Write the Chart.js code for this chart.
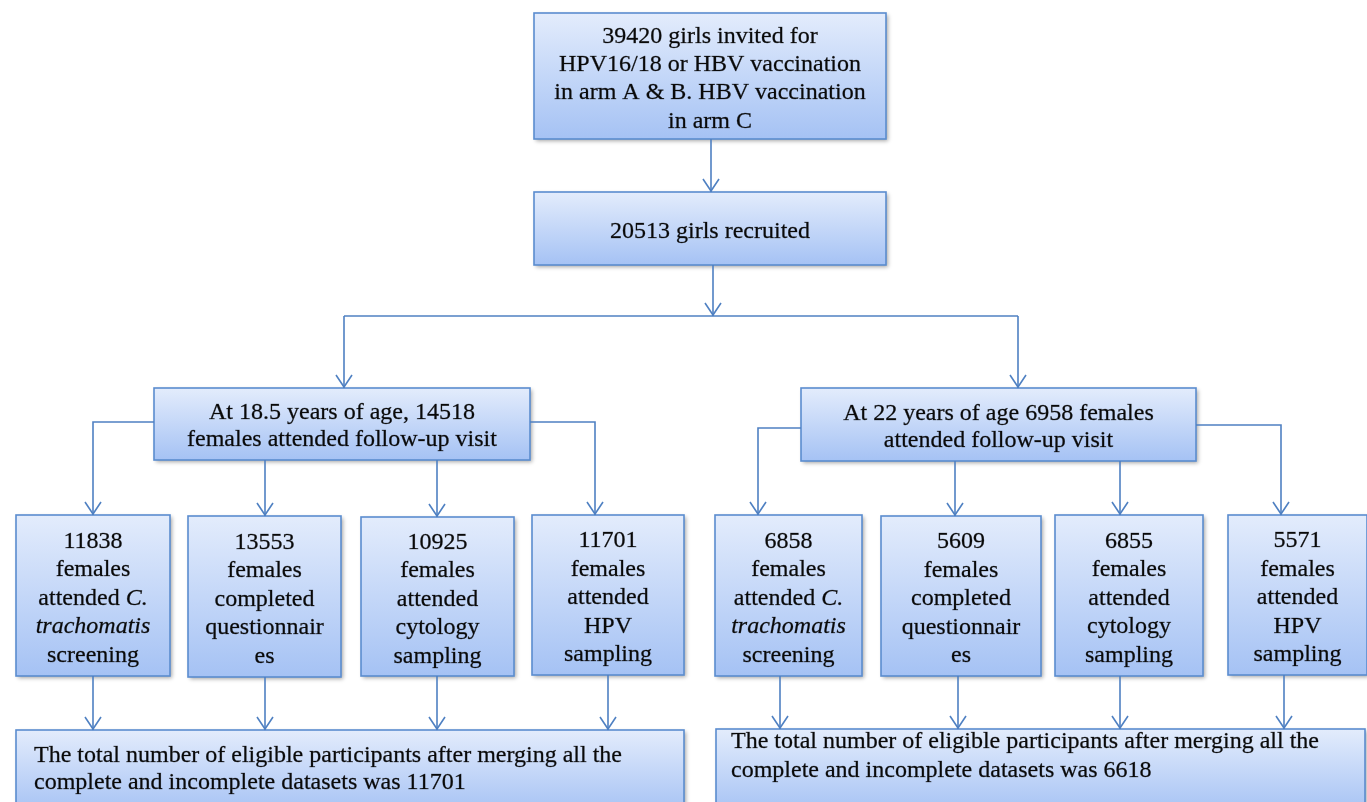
<!DOCTYPE html>
<html>
<head>
<meta charset="utf-8">
<title>Flow chart</title>
<script src="https://cdn.jsdelivr.net/npm/chart.js"></script>
<style>
  html, body { margin: 0; padding: 0; background: #fff; overflow: hidden; }
  canvas { display: block; }
</style>
</head>
<body>
<canvas id="flow" width="1367" height="802"></canvas>
<script>
// ---- data ----
const invitedCount = 39420;
const recruitedCount = 20513;
const visitAges = ['18.5', '22'];
const visitCounts = [14518, 6958];
const outcomeCountsAt18 = [11838, 13553, 10925, 11701];
const outcomeCountsAt22 = [6858, 5609, 6855, 5571];
const eligibleTotals = [11701, 6618];
// wording of the outcome boxes, one entry per row of text (*...* = italic)
const outcomeWording = [
  ['females', 'attended *C.*', '*trachomatis*', 'screening'],
  ['females', 'completed', 'questionnair', 'es'],
  ['females', 'attended', 'cytology', 'sampling'],
  ['females', 'attended', 'HPV', 'sampling']
];

// ---- layout (page units, same as canvas pixels) ----
const topBox = [534, 886, 13, 139];
const recruitedBox = [534, 886, 192, 265];
const visitBoxes = [[154, 530, 388, 460], [801, 1196, 388, 461]];
const outcomeBoxes18 = [[16, 170, 515, 676], [188, 341, 516, 677], [361, 514, 517, 676], [532, 684, 515, 675]];
const outcomeBoxes22 = [[715, 862, 515, 676], [881, 1041, 516, 676], [1055, 1203, 515, 676], [1228, 1367, 515, 675]];
const finalBoxes = [[16, 684, 730, 814], [716, 1365, 729, 814]];
const splitY = 316;
const visitSideY = [[422, 422], [428, 425]];
const visitSideX = [[93, 595], [758, 1281]];
const visitMidX = [[265, 437], [955, 1120]];
const finalArrowX = [[93, 265, 437, 608], [780, 958, 1120, 1284]];

const FONT = '"Liberation Serif", "Times New Roman", serif';
const LINE_COLOR = '#4f80c2';

// ---- build boxes with their text ----
const boxes = [];
boxes.push({ r: topBox, lines: [invitedCount + ' girls invited for', 'HPV16/18 or HBV vaccination', 'in arm A & B. HBV vaccination', 'in arm C'], lh: 28.3, dy: 3 });
boxes.push({ r: recruitedBox, lines: [recruitedCount + ' girls recruited'], lh: 28, dy: 3 });
boxes.push({ r: visitBoxes[0], lines: ['At ' + visitAges[0] + ' years of age, ' + visitCounts[0], 'females attended follow-up visit'], lh: 27, dy: 2 });
boxes.push({ r: visitBoxes[1], lines: ['At ' + visitAges[1] + ' years of age ' + visitCounts[1] + ' females', 'attended follow-up visit'], lh: 27, dy: 3 });
outcomeBoxes18.forEach((r, i) => boxes.push({ r, lines: [String(outcomeCountsAt18[i])].concat(outcomeWording[i]), lh: 28.5, dy: 3 }));
outcomeBoxes22.forEach((r, i) => boxes.push({ r, lines: [String(outcomeCountsAt22[i])].concat(outcomeWording[i]), lh: 28.5, dy: 3 }));
const finalText = n => ['The total number of eligible participants after merging all the', 'complete and incomplete datasets was ' + n];
boxes.push({ r: finalBoxes[0], lines: finalText(eligibleTotals[0]), left: 18, top: 26, lh: 27 });
boxes.push({ r: finalBoxes[1], lines: finalText(eligibleTotals[1]), left: 15, top: 13, lh: 29 });

// ---- connectors derived from the box layout ----
const connectors = [];
function down(x, y0, y1, arrow = true) { connectors.push({ pts: [[x, y0], [x, y1]], arrow }); }
down(711, topBox[3], recruitedBox[2]);
down(713, recruitedBox[3], splitY);
connectors.push({ pts: [[344, splitY], [1018, splitY]], arrow: false });
down(344, splitY, visitBoxes[0][2]);
down(1018, splitY, visitBoxes[1][2]);
[outcomeBoxes18, outcomeBoxes22].forEach((row, k) => {
  const vb = visitBoxes[k];
  connectors.push({ pts: [[vb[0], visitSideY[k][0]], [visitSideX[k][0], visitSideY[k][0]], [visitSideX[k][0], row[0][2]]], arrow: true });
  down(visitMidX[k][0], vb[3], row[1][2]);
  down(visitMidX[k][1], vb[3], row[2][2]);
  connectors.push({ pts: [[vb[1], visitSideY[k][1]], [visitSideX[k][1], visitSideY[k][1]], [visitSideX[k][1], row[3][2]]], arrow: true });
  row.forEach((r, i) => down(finalArrowX[k][i], r[3], finalBoxes[k][2]));
});

const datasets = connectors.map(c => ({
  data: c.pts.map(p => ({ x: p[0], y: p[1] })),
  showLine: true,
  borderColor: LINE_COLOR,
  borderWidth: 1.6,
  pointRadius: 0,
  tension: 0,
  fill: false,
  arrow: c.arrow
}));

function segments(line) {
  return line.split('*').map((t, i) => ({ t, italic: i % 2 === 1 })).filter(s => s.t.length);
}

function drawLine(ctx, line, x, y, align) {
  const segs = segments(line);
  const widths = segs.map(s => { ctx.font = (s.italic ? 'italic ' : '') + '24px ' + FONT; return ctx.measureText(s.t).width; });
  const total = widths.reduce((a, b) => a + b, 0);
  let cx = align === 'center' ? x - total / 2 : x;
  segs.forEach((s, i) => {
    ctx.font = (s.italic ? 'italic ' : '') + '24px ' + FONT;
    ctx.fillText(s.t, cx, y);
    ctx.strokeText(s.t, cx, y);
    cx += widths[i];
  });
}

const flowBoxes = {
  id: 'flowBoxes',
  beforeDatasetsDraw(chart) {
    const { ctx, scales: { x, y } } = chart;
    boxes.forEach(b => {
      const x0 = x.getPixelForValue(b.r[0]), x1 = x.getPixelForValue(b.r[1]);
      const y0 = y.getPixelForValue(b.r[2]), y1 = y.getPixelForValue(b.r[3]);
      ctx.save();
      const g = ctx.createLinearGradient(0, y0, 0, Math.min(y1, y0 + 170));
      g.addColorStop(0, '#e3ecfc');
      g.addColorStop(1, '#a5c2f4');
      ctx.shadowColor = 'rgba(0,0,0,0.35)';
      ctx.shadowBlur = 4;
      ctx.shadowOffsetX = 2;
      ctx.shadowOffsetY = 2;
      ctx.fillStyle = g;
      ctx.fillRect(x0, y0, x1 - x0, y1 - y0);
      ctx.shadowColor = 'transparent';
      ctx.strokeStyle = '#5a8ccf';
      ctx.lineWidth = 1.6;
      ctx.strokeRect(x0, y0, x1 - x0, y1 - y0);

      // text, slightly emboldened like the original rendering
      ctx.fillStyle = '#0a0a0a';
      ctx.strokeStyle = 'rgba(10,10,10,0.55)';
      ctx.lineWidth = 0.45;
      ctx.textBaseline = 'middle';
      ctx.textAlign = 'left';
      if (b.left !== undefined) {
        b.lines.forEach((ln, i) => drawLine(ctx, ln, x0 + b.left, y0 + b.top + i * b.lh, 'left'));
      } else {
        const cx = (x0 + x1) / 2;
        const cy = (y0 + y1) / 2 + b.dy;
        const start = cy - (b.lines.length - 1) * b.lh / 2;
        b.lines.forEach((ln, i) => drawLine(ctx, ln, cx, start + i * b.lh, 'center'));
      }
      ctx.restore();
    });
  },
  afterDatasetsDraw(chart) {
    const { ctx, scales: { x, y } } = chart;
    ctx.save();
    ctx.strokeStyle = LINE_COLOR;
    ctx.lineWidth = 1.6;
    chart.data.datasets.forEach(ds => {
      if (!ds.arrow) return;
      const p = ds.data[ds.data.length - 1];
      const px = x.getPixelForValue(p.x), py = y.getPixelForValue(p.y);
      ctx.beginPath();
      ctx.moveTo(px - 8, py - 13);
      ctx.lineTo(px, py - 1);
      ctx.lineTo(px + 8, py - 13);
      ctx.stroke();
    });
    ctx.restore();
  }
};

new Chart(document.getElementById('flow'), {
  type: 'scatter',
  data: { datasets },
  options: {
    responsive: false,
    animation: false,
    devicePixelRatio: 1,
    layout: { padding: 0 },
    plugins: { legend: { display: false }, tooltip: { enabled: false } },
    scales: {
      x: { type: 'linear', min: 0, max: 1367, display: false },
      y: { type: 'linear', min: 0, max: 802, reverse: true, display: false }
    }
  },
  plugins: [flowBoxes]
});
</script>
</body>
</html>
